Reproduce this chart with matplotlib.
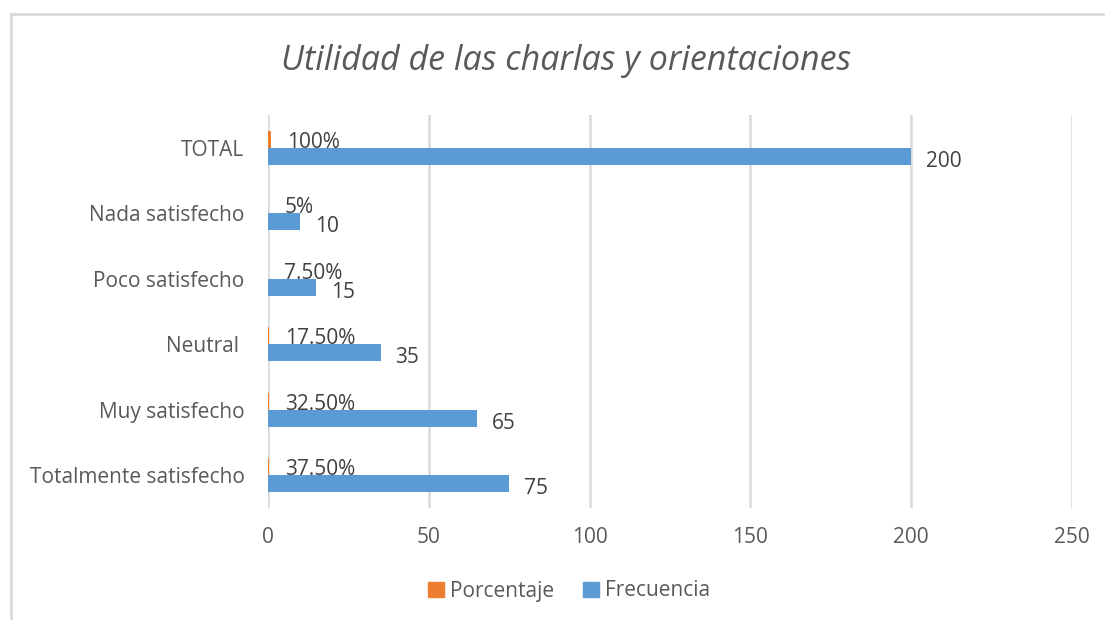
import matplotlib

matplotlib.use("Agg")
import matplotlib.pyplot as plt
import numpy as np
from matplotlib.lines import Line2D

# data (bottom -> top)
categories = ["Totalmente satisfecho", "Muy satisfecho", "Neutral ",
              "Poco satisfecho", "Nada satisfecho", "TOTAL"]
frecuencia = [75, 65, 35, 15, 10, 200]
porcentaje = [0.375, 0.325, 0.175, 0.075, 0.05, 1.0]
pct_labels = ["37.50%", "32.50%", "17.50%", "7.50%", "5%", "100%"]
x_ticks = [0, 50, 100, 150, 200, 250]

ORANGE = "#ED7D31"
BLUE = "#5B9BD5"
GRID = "#D9D9D9"
TICK = "#595959"
LABEL = "#404040"

plt.rcParams["font.family"] = ["Open Sans", "DejaVu Sans"]

fig = plt.figure(figsize=(11.05, 6.2), dpi=100)
ax = fig.add_axes([268 / 1105, 1 - 508 / 620, (1072 - 268) / 1105, (508 - 115) / 620])

y = np.arange(len(categories))
h = 0.26
ax.barh(y + h / 2, porcentaje, height=h, color=ORANGE, label="Porcentaje", zorder=3)
ax.barh(y - h / 2, frecuencia, height=h, color=BLUE, label="Frecuencia", zorder=3)

for yi, v, lab in zip(y, porcentaje, pct_labels):
    ax.annotate(lab, (v, yi + h / 2), xytext=(16, -3), textcoords="offset pixels",
                ha="left", va="center", fontsize=15, color=LABEL, zorder=4)
for yi, v in zip(y, frecuencia):
    ax.annotate(str(v), (v, yi - h / 2), xytext=(15, -5), textcoords="offset pixels",
                ha="left", va="center", fontsize=15, color=LABEL, zorder=4)

ax.set_xlim(0, 250)
ax.set_ylim(-0.5, len(categories) - 0.5)
ax.set_xticks(x_ticks)
ax.set_xticklabels([str(t) for t in x_ticks])
ax.set_yticks(y)
ax.set_yticklabels(categories)
ax.tick_params(axis="both", length=0, labelsize=15, labelcolor=TICK)
ax.tick_params(axis="x", pad=14)
ax.tick_params(axis="y", pad=17)
ax.grid(axis="x", color=GRID, linewidth=1.8, zorder=0)
for s in ax.spines.values():
    s.set_visible(False)

fig.text(566 / 1105, 1 - 61 / 620, "Utilidad de las charlas y orientaciones",
         ha="center", va="center", fontsize=24.5, style="italic", color=TICK)

handles = [plt.Rectangle((0, 0), 1, 1, color=ORANGE), plt.Rectangle((0, 0), 1, 1, color=BLUE)]
fig.legend(handles, ["Porcentaje", "Frecuencia"], loc="center",
           bbox_to_anchor=(569 / 1105, 1 - 591 / 620), ncol=2, frameon=False,
           fontsize=15, labelcolor=TICK, handlelength=0.75, handleheight=0.75,
           handletextpad=0.3, columnspacing=1.4)

# chart border (light frame)
fig.add_artist(Line2D([11 / 1105, 1], [1 - 14 / 620] * 2, color=GRID, lw=2.0,
                      transform=fig.transFigure))
fig.add_artist(Line2D([11 / 1105] * 2, [0, 1 - 14 / 620], color=GRID, lw=2.0,
                      transform=fig.transFigure))

fig.savefig("out.png", dpi=100)
